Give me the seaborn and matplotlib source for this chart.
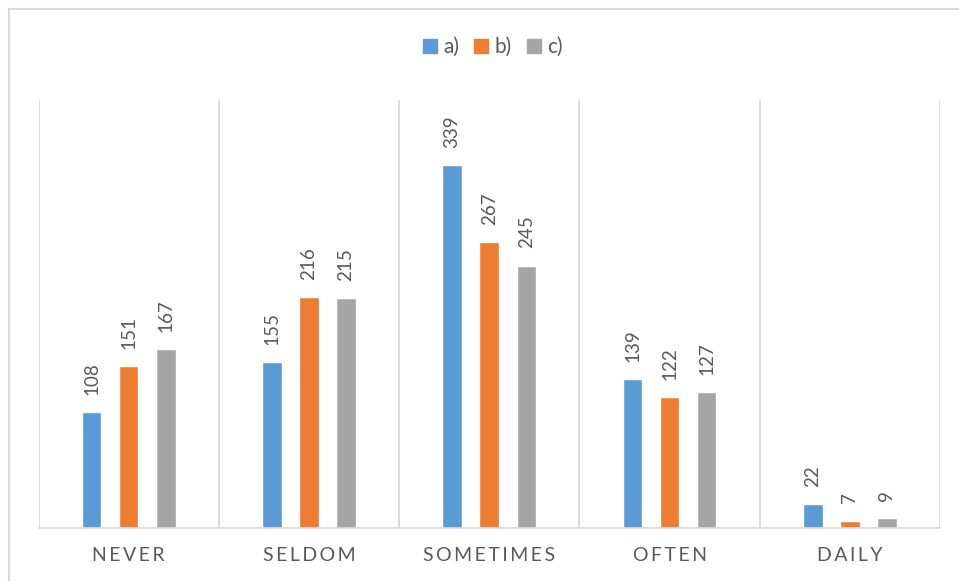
import matplotlib
matplotlib.use("Agg")
import matplotlib.pyplot as plt
from matplotlib.patches import Rectangle
from matplotlib.lines import Line2D
import pandas as pd
import seaborn as sns

# Survey answers per frequency band, one series per question variant
categories = ["NEVER", "SELDOM", "SOMETIMES", "OFTEN", "DAILY"]
series_names = ["a)", "b)", "c)"]
values_a = [108, 155, 339, 139, 22]
values_b = [151, 216, 267, 122, 7]
values_c = [167, 215, 245, 127, 9]

palette = ["#5B9BD5", "#ED7D31", "#A5A5A5"]
text_color = "#595959"
line_color = "#D9D9D9"

rows = []
for name, vals in zip(series_names, [values_a, values_b, values_c]):
    for cat, v in zip(categories, vals):
        rows.append({"category": cat, "series": name, "count": v})
df = pd.DataFrame(rows)

sns.set_theme(style="white")
plt.rcParams["font.family"] = ["Lato", "DejaVu Sans"]

fig = plt.figure(figsize=(9.59, 5.81), dpi=100)
ax = fig.add_axes([38.5 / 959, 53 / 581, (940 - 38.5) / 959, (528 - 100) / 581])

sns.barplot(
    data=df, x="category", y="count", hue="series",
    order=categories, hue_order=series_names, palette=palette,
    width=0.617, gap=0.47, saturation=1, errorbar=None, ax=ax,
)

for cont in ax.containers:
    ax.bar_label(cont, fmt="{:.0f}", padding=12.5, rotation=90,
                 fontsize=13.5, color=text_color)

ax.set_ylim(0, 400)
ax.set_xlim(-0.5, len(categories) - 0.5)
ax.set_yticks([])
ax.set_xlabel("")
ax.set_ylabel("")

# vertical separators between categories
for b in range(len(categories) + 1):
    ax.axvline(b - 0.5, color=line_color, lw=1.3, zorder=0)

for s in ["top", "left", "right"]:
    ax.spines[s].set_visible(False)
ax.spines["bottom"].set_color(line_color)
ax.spines["bottom"].set_linewidth(1.3)

# tracked (letter-spaced) category captions
ax.set_xticks(range(len(categories)))
ax.set_xticklabels(["\u2009".join(c) for c in categories])
ax.tick_params(axis="x", length=0, pad=14, labelsize=14, labelcolor=text_color)

# legend with square swatches
handles = [Line2D([], [], marker="s", linestyle="", markersize=10,
                  markerfacecolor=c, markeredgecolor=c) for c in palette]
ax.legend(
    handles, series_names, loc="center",
    bbox_to_anchor=(493 / 959, 1 - 47 / 581), bbox_transform=fig.transFigure,
    ncol=3, frameon=False, fontsize=15, handlelength=0.68,
    handletextpad=0.3, columnspacing=0.7, labelcolor=text_color,
)

# chart frame
fig.patches.append(Rectangle((9 / 959, -0.1), 1.2, 1 - 9 / 581 + 0.1,
                             transform=fig.transFigure, fill=False,
                             edgecolor=line_color, lw=1.5))

fig.savefig("out.png", dpi=100)
